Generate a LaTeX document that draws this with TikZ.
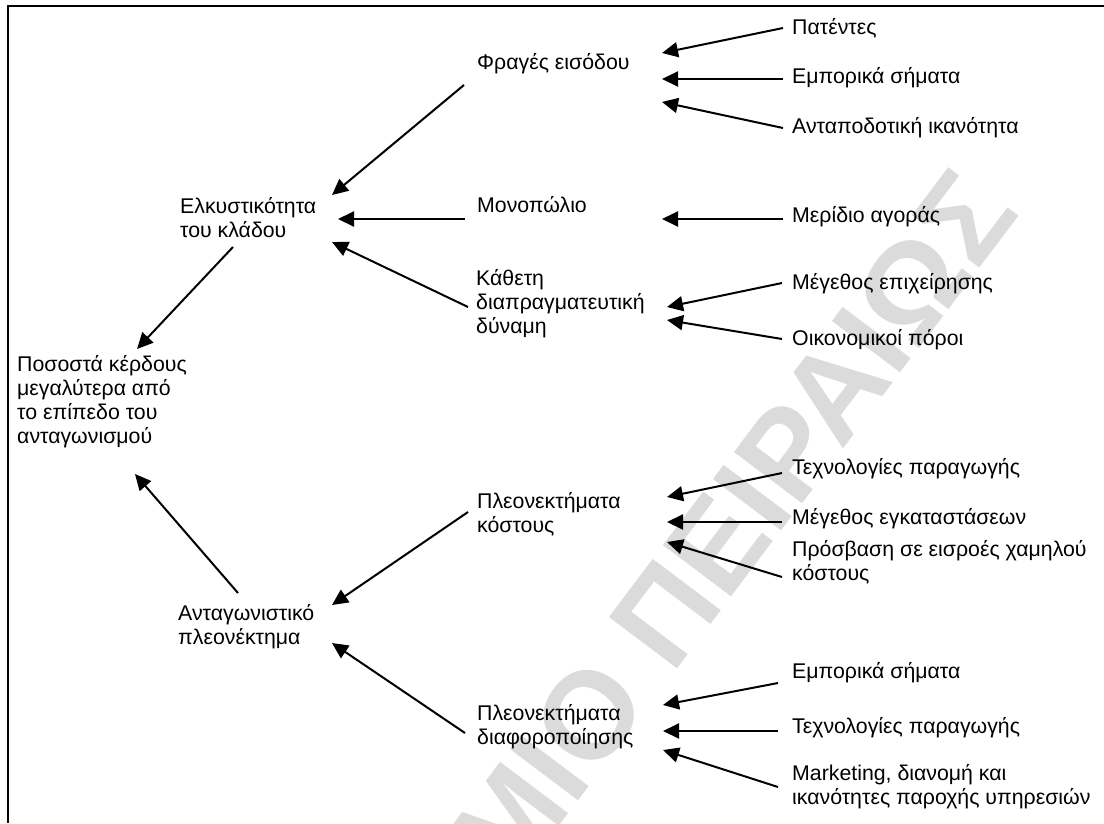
\documentclass[tikz,border=0pt]{standalone}
\usepackage{fontspec}
\setmainfont{Liberation Sans}
\usetikzlibrary{calc,arrows.meta}
% multi-line label whose baseline is that of its first line
\newcommand{\mlines}[1]{\begin{tabular}[t]{@{}l@{}}#1\end{tabular}}
\begin{document}
\begin{tikzpicture}[x=1pt,y=-1pt,
  label/.style={anchor=base west,inner sep=0pt,
    font=\fontsize{21.3}{24.3}\selectfont},
  arrow/.style={line width=2pt,-{Triangle[length=16pt,width=15pt]}},
  frame/.style={line width=2pt,black},
  watermark/.style={inner sep=0pt,text=black!14,
    font=\fontsize{124}{124}\selectfont\bfseries}]
\useasboundingbox (0,0) rectangle (1104,823);

% faint diagonal watermark
\begin{scope}
  \clip (0,0) rectangle (1104,823);
  \node[watermark,rotate=53] (wm) at (732,526) {ΜΙΟ ΠΕΙΡΑΙΩΣ};
\end{scope}

% open frame: top and left edges only
\coordinate (tl) at (8,6);
\coordinate (tr) at (1104,6);
\coordinate (bl) at (8,823);
\draw[frame] (tr) -- (tl) -- (bl);

% outcome
\node[label] (pro) at (17,371) {\mlines{Ποσοστά κέρδους\\μεγαλύτερα από\\το επίπεδο του\\ανταγωνισμού}};

% first-level sources
\node[label] (elk) at (180,213) {\mlines{Ελκυστικότητα\\του κλάδου}};
\node[label] (ant) at (178,620) {\mlines{Ανταγωνιστικό\\πλεονέκτημα}};

% second-level sources
\node[label] (fr)  at (477,69)  {Φραγές εισόδου};
\node[label] (mon) at (477,212) {Μονοπώλιο};
\node[label] (kat) at (476,285) {\mlines{Κάθετη\\διαπραγματευτική\\δύναμη}};
\node[label] (plk) at (477,508) {\mlines{Πλεονεκτήματα\\κόστους}};
\node[label] (pld) at (477,720) {\mlines{Πλεονεκτήματα\\διαφοροποίησης}};

% third-level sources
\node[label] (r1)  at (792,34)  {Πατέντες};
\node[label] (r2)  at (792,83)  {Εμπορικά σήματα};
\node[label] (r3)  at (792,133) {Ανταποδοτική ικανότητα};
\node[label] (r4)  at (792,222) {Μερίδιο αγοράς};
\node[label] (r5)  at (792,289) {Μέγεθος επιχείρησης};
\node[label] (r6)  at (792,345) {Οικονομικοί πόροι};
\node[label] (r7)  at (792,474) {Τεχνολογίες παραγωγής};
\node[label] (r8)  at (792,524) {Μέγεθος εγκαταστάσεων};
\node[label] (r9)  at (792,556) {\mlines{Πρόσβαση σε εισροές χαμηλού\\κόστους}};
\node[label] (r10) at (792,678) {Εμπορικά σήματα};
\node[label] (r11) at (792,733) {Τεχνολογίες παραγωγής};
\node[label] (r12) at (792,780) {\mlines{Marketing, διανομή και\\ικανότητες παροχής υπηρεσιών}};

% third level -> second level
\draw[arrow] ($(r1.base west)+(-9,-6)$)  -- ($(fr.base west)+(185,-16)$);
\draw[arrow] ($(r2.base west)+(-9,-4)$)  -- ($(fr.base west)+(185,10)$);
\draw[arrow] ($(r3.base west)+(-9,-5)$)  -- ($(fr.base west)+(185,33)$);
\draw[arrow] ($(r4.base west)+(-9,-3)$)  -- ($(mon.base west)+(185,7)$);
\draw[arrow] ($(r5.base west)+(-10,-6)$) -- ($(kat.base west)+(191,22)$);
\draw[arrow] ($(r6.base west)+(-10,-6)$) -- ($(kat.base west)+(191,35)$);
\draw[arrow] ($(r7.base west)+(-10,-1)$) -- ($(plk.base west)+(190,-11)$);
\draw[arrow] ($(r8.base west)+(-10,-2)$) -- ($(plk.base west)+(190,14)$);
\draw[arrow] ($(r9.base west)+(-10,21)$) -- ($(plk.base west)+(190,34)$);
\draw[arrow] ($(r10.base west)+(-14,5)$) -- ($(pld.base west)+(186,-15)$);
\draw[arrow] ($(r11.base west)+(-14,-2)$) -- ($(pld.base west)+(186,11)$);
\draw[arrow] ($(r12.base west)+(-14,7)$) -- ($(pld.base west)+(186,30)$);

% second level -> first level
\draw[arrow] ($(fr.base west)+(-13,16)$)  -- ($(elk.base west)+(152,-18)$);
\draw[arrow] ($(mon.base west)+(-12,7)$)  -- ($(elk.base west)+(158,6)$);
\draw[arrow] ($(kat.base west)+(-8,22)$)  -- ($(elk.base west)+(152,29)$);
\draw[arrow] ($(plk.base west)+(-9,4)$)   -- ($(ant.base west)+(154,-15)$);
\draw[arrow] ($(pld.base west)+(-12,13)$) -- ($(ant.base west)+(154,23)$);

% first level -> outcome
\draw[arrow] ($(elk.base west)+(53,34)$)  -- ($(pro.base west)+(120,-22)$);
\draw[arrow] ($(ant.base west)+(60,-27)$) -- ($(pro.base west)+(118,103)$);
\end{tikzpicture}
\end{document}
